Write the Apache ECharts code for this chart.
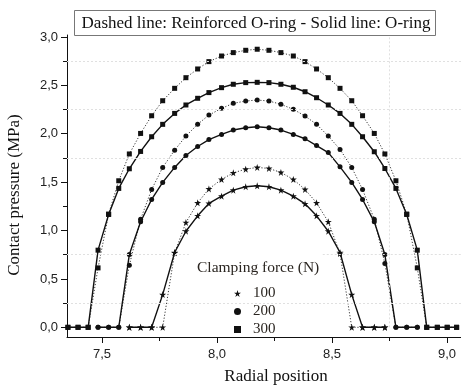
<!DOCTYPE html>
<html>
<head>
<meta charset="utf-8">
<script src="https://cdn.jsdelivr.net/npm/echarts@6/dist/echarts.min.js"></script>
<style>html,body{margin:0;padding:0;background:#fff;}#c{width:461px;height:388px;}</style>
</head>
<body>
<div id="c"></div>
<script>
// Radial positions of the nodes (shared by all series)
const xPos = [7.352, 7.396, 7.44, 7.483, 7.529, 7.573, 7.619, 7.668, 7.716, 7.764, 7.816, 7.865, 7.916, 7.965, 8.02, 8.071, 8.125, 8.175, 8.226, 8.278, 8.332, 8.383, 8.433, 8.484, 8.535, 8.586, 8.633, 8.684, 8.73, 8.778, 8.825, 8.871, 8.912, 8.958, 9.001, 9.042];
const _ = null;
// 300 N
const p300Solid  = [0, 0, 0, 0.797, 1.166, 1.435, 1.638, 1.817, 1.969, 2.097, 2.21, 2.297, 2.366, 2.425, 2.476, 2.511, 2.528, 2.531, 2.528, 2.511, 2.48, 2.434, 2.372, 2.297, 2.21, 2.097, 1.969, 1.814, 1.641, 1.435, 1.166, 0.797, 0, 0, 0, 0];
const p300Dotted = [0, 0, 0, 0.614, 1.17, 1.514, 1.791, 2.003, 2.186, 2.341, 2.469, 2.579, 2.669, 2.745, 2.803, 2.838, 2.862, 2.873, 2.862, 2.838, 2.803, 2.745, 2.669, 2.579, 2.469, 2.341, 2.186, 2.003, 1.791, 1.514, 1.17, 0.614, 0, 0, 0, 0];
// 200 N
const p200Solid  = [_, _, _, 0, 0, 0, 0.752, 1.09, 1.321, 1.497, 1.652, 1.775, 1.868, 1.94, 1.993, 2.038, 2.062, 2.072, 2.062, 2.038, 1.993, 1.948, 1.878, 1.805, 1.658, 1.497, 1.321, 1.09, 0.752, 0, 0, 0, _, _, _, _];
const p200Dotted = [_, _, _, 0, 0, 0, 0.64, 1.117, 1.424, 1.652, 1.83, 1.976, 2.097, 2.193, 2.262, 2.314, 2.338, 2.348, 2.338, 2.304, 2.252, 2.183, 2.097, 1.976, 1.838, 1.652, 1.424, 1.117, 0.659, 0, 0, 0, _, _, _, _];
// 100 N
const p100Solid  = [_, _, _, _, _, _, 0, 0, 0, 0.338, 0.773, 0.993, 1.152, 1.28, 1.355, 1.417, 1.452, 1.462, 1.452, 1.417, 1.355, 1.276, 1.152, 0.993, 0.773, 0.338, 0, 0, 0, _, _, _, _, _, _, _];
const p100Dotted = [_, _, _, _, _, _, 0, 0, 0, 0, 0.77, 1.083, 1.286, 1.43, 1.528, 1.596, 1.634, 1.652, 1.641, 1.6, 1.528, 1.424, 1.286, 1.09, 0.762, 0, 0, 0, 0, _, _, _, _, _, _, _];

const yMajor = [0, 0.5, 1.0, 1.5, 2.0, 2.5, 3.0];
const yMinor = [0.25, 0.75, 1.25, 1.75, 2.25, 2.75];
const xMajor = [7.5, 8.0, 8.5, 9.0];
const xMinor = [7.75, 8.25, 8.75];
const legendNames = ['100', '200', '300'];

const starPath = 'path://M50,2 L61,37 L98,37 L68,59 L79,95 L50,73 L21,95 L32,59 L2,37 L39,37 Z';
const serif = '"Liberation Serif", "Times New Roman", serif';

function pairs(ys) {
  const out = [];
  ys.forEach((y, i) => { if (y !== null) out.push([xPos[i], y]); });
  return out;
}
function fmt(v) { return v.toFixed(1).replace('.', ','); }

const XMIN = 7.348, XMAX = 9.061, YMIN = -0.1, YMAX = 3.02;

function lineSeries(name, ys, symbol, size, dotted) {
  return {
    name: name, type: 'line', data: pairs(ys), symbol: symbol, symbolSize: size,
    showSymbol: true, silent: true, animation: false,
    itemStyle: { color: '#111', borderWidth: 0 },
    lineStyle: dotted ? { color: '#222', width: 0.9, type: [1.2, 1.8] } : { color: '#111', width: 1.4 },
    z: dotted ? 3 : 4
  };
}

const gridLineStyle = { color: '#e0e0e0', width: 1, type: [2, 2] };
const labelFont = '"Liberation Sans", Arial, sans-serif';
const xLabelStyle = { formatter: fmt, fontFamily: labelFont, fontSize: 13, color: '#222', margin: 11, showMinLabel: true, showMaxLabel: true, hideOverlap: false, interval: 0 };

const option = {
  animation: false,
  backgroundColor: '#fff',
  grid: { left: 67, right: 0, top: 35, bottom: 51 },
  xAxis: [{
    type: 'value', min: XMIN, max: XMAX,
    axisLine: { show: true, onZero: false, lineStyle: { color: '#111', width: 1 } },
    axisTick: { show: true, inside: false, length: 6, customValues: xMajor, lineStyle: { color: '#111' } },
    axisLabel: Object.assign({ customValues: xMajor.slice(1) }, xLabelStyle),
    splitLine: { show: false }
  }, {
    type: 'value', min: XMIN, max: XMAX, position: 'bottom', offset: 0,
    axisLine: { show: false, onZero: false },
    axisTick: { show: true, inside: false, length: 4, customValues: xMinor, lineStyle: { color: '#111' } },
    axisLabel: Object.assign({ customValues: [xMajor[0]] }, xLabelStyle),
    splitLine: { show: false }
  }],
  yAxis: [{
    type: 'value', min: YMIN, max: YMAX,
    axisLine: { show: true, onZero: false, lineStyle: { color: '#111', width: 1 } },
    axisTick: { show: true, inside: false, length: 6, customValues: yMajor, lineStyle: { color: '#111' } },
    axisLabel: { customValues: yMajor, formatter: fmt, fontFamily: labelFont, fontSize: 13, color: '#222', margin: 9, showMinLabel: true, showMaxLabel: true, hideOverlap: false },
    splitLine: { show: false }
  }, {
    type: 'value', min: YMIN, max: YMAX, position: 'left', offset: 0,
    axisLine: { show: false, onZero: false },
    axisTick: { show: true, inside: false, length: 4, customValues: yMinor, lineStyle: { color: '#111' } },
    axisLabel: { show: false },
    splitLine: { show: false }
  }],
  legend: {
    orient: 'vertical', left: 229, top: 281,
    itemWidth: 7, itemHeight: 7, itemGap: 3,
    data: [
      { name: legendNames[0], icon: starPath },
      { name: legendNames[1], icon: 'circle' },
      { name: legendNames[2], icon: 'rect' }
    ],
    itemStyle: { color: '#111' },
    textStyle: { fontFamily: serif, fontSize: 15, color: '#2a2520', lineHeight: 15, padding: [0, 0, 0, 7] },
    selectedMode: false
  },
  graphic: [
    { type: 'rect', shape: { x: 74.5, y: 10.5, width: 361, height: 25 }, style: { fill: '#fff', stroke: '#777', lineWidth: 1 }, z: 100 },
    { type: 'text', x: 256, y: 23.5, style: { text: 'Dashed line: Reinforced O-ring - Solid line: O-ring', font: '17px ' + serif, fill: '#111', textAlign: 'center', textVerticalAlign: 'middle' }, z: 101 },
    { type: 'text', x: 197, y: 268, style: { text: 'Clamping force (N)', font: '15.5px ' + serif, fill: '#2a2520', textAlign: 'left', textVerticalAlign: 'middle' }, z: 101 },
    { type: 'text', x: 276, y: 377, style: { text: 'Radial position', font: '17px ' + serif, fill: '#111', textAlign: 'center', textVerticalAlign: 'middle' }, z: 101 },
    { type: 'text', x: 15, y: 195, rotation: Math.PI / 2, style: { text: 'Contact pressure (MPa)', font: '17px ' + serif, fill: '#111', textAlign: 'center', textVerticalAlign: 'middle' }, z: 101 }
  ],
  series: [
    {
      type: 'line', data: [], silent: true, symbol: 'none',
      markLine: {
        silent: true, symbol: 'none', label: { show: false }, lineStyle: gridLineStyle, animation: false,
        data: [
          [{ coord: [XMIN, 0.25] }, { coord: [XMAX, 0.25] }],
          [{ coord: [XMIN, 0.75] }, { coord: [7.883, 0.75] }],
          [{ coord: [8.46, 0.75] }, { coord: [XMAX, 0.75] }],
          [{ coord: [XMIN, 1.75] }, { coord: [XMAX, 1.75] }],
          [{ coord: [XMIN, 2.25] }, { coord: [XMAX, 2.25] }],
          [{ coord: [XMIN, 2.75] }, { coord: [XMAX, 2.75] }],
          [{ coord: [8.75, 0] }, { coord: [8.75, YMAX] }]
        ]
      },
      z: 1
    },
    lineSeries('300', p300Solid, 'rect', 5, false),
    lineSeries('300', p300Dotted, 'rect', 5, true),
    lineSeries('200', p200Solid, 'circle', 5, false),
    lineSeries('200', p200Dotted, 'circle', 5, true),
    lineSeries('100', p100Solid, starPath, 7, false),
    lineSeries('100', p100Dotted, starPath, 7, true)
  ]
};

const chart = echarts.init(document.getElementById('c'), null, { renderer: 'canvas' });
chart.setOption(option);
</script>
</body>
</html>
